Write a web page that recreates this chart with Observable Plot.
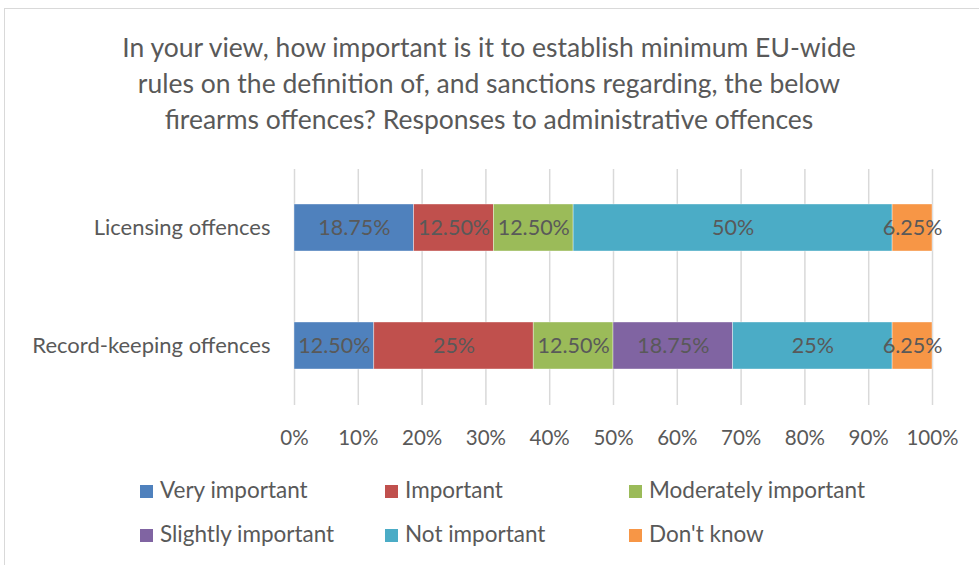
<!DOCTYPE html>
<html>
<head>
<meta charset="utf-8">
<script src="https://cdn.jsdelivr.net/npm/d3@7"></script>
<script src="https://cdn.jsdelivr.net/npm/@observablehq/plot@0.6"></script>
<style>
  html, body { margin: 0; padding: 0; background: #fff; }
  #wrap { position: relative; width: 979px; height: 565px; overflow: hidden; font-family: Lato, "Open Sans", sans-serif; color: #595959; }
  #frame { position: absolute; left: 4px; top: 8px; width: 1000px; height: 600px; border-left: 1.5px solid #d9d9d9; border-top: 1.5px solid #d9d9d9; }
  #title { position: absolute; left: -11px; top: 29px; width: 1000px; text-align: center; font-size: 26.5px; line-height: 36px; color: #595959; }
  #chart { position: absolute; left: 0; top: 0; }
  .leg { position: absolute; font-size: 22.5px; line-height: 24px; color: #595959; white-space: nowrap; }
  .sw { display: inline-block; width: 13px; height: 13px; margin-right: 7px; vertical-align: 0px; }
</style>
</head>
<body>
<div id="wrap">
  <div id="frame"></div>
  <div id="chart"></div>
  <div id="title">In your view, how important is it to establish minimum EU-wide<br>rules on the definition of, and sanctions regarding, the below<br>firearms offences? Responses to administrative offences</div>
  <div id="legend"></div>
</div>
<script>
const categories = ["Licensing offences", "Record-keeping offences"];
const responses = ["Very important", "Important", "Moderately important", "Slightly important", "Not important", "Don't know"];
const colors = ["#4F81BD", "#C0504D", "#9BBB59", "#8064A2", "#4BACC6", "#F79646"];
const licensingValues = [18.75, 12.5, 12.5, 0, 50, 6.25];
const recordKeepingValues = [12.5, 25, 12.5, 18.75, 25, 6.25];
const xTicks = [0, 10, 20, 30, 40, 50, 60, 70, 80, 90, 100];

const seriesByCategory = [licensingValues, recordKeepingValues];
const data = [];
categories.forEach((c, ci) => {
  responses.forEach((r, ri) => {
    const v = seriesByCategory[ci][ri];
    if (v > 0) data.push({category: c, response: r, value: v});
  });
});
const fmt = v => Number.isInteger(v) ? v + "%" : v.toFixed(2) + "%";

const W = 979, H = 565;
const chart = Plot.plot({
  width: W,
  height: H,
  marginLeft: 294,
  marginRight: 47,
  marginTop: 169,
  marginBottom: H - 405,
  style: {fontFamily: "Lato, 'Open Sans', sans-serif", fontSize: "20px", color: "#595959", background: "transparent"},
  x: {domain: [0, 100], ticks: xTicks, tickFormat: d => d + "%", label: null},
  y: {domain: categories, paddingInner: 0.6, paddingOuter: 0.3, label: null},
  color: {domain: responses, range: colors},
  marks: [
    Plot.ruleX(xTicks, {stroke: "#d9d9d9", strokeWidth: 1.5}),
    Plot.barX(data, Plot.stackX({x: "value", y: "category", fill: "response", order: responses, stroke: "#ffffff", strokeOpacity: 0.5, strokeWidth: 0.75})),
    Plot.text(data, Plot.stackX({x: "value", y: "category", z: "response", order: responses, text: d => fmt(d.value), fill: "#595959", fontSize: 21.5})),
    Plot.axisX({ticks: xTicks, tickSize: 0, tickPadding: 25, tickFormat: d => d + "%", fontSize: 20.5, fill: "#595959"}),
    Plot.axisY({tickSize: 0, tickPadding: 24, fontSize: 22, fill: "#595959"})
  ]
});
document.getElementById("chart").appendChild(chart);

const legend = document.getElementById("legend");
const legPos = [[140, 478], [385, 478], [629, 478], [140, 522], [385, 522], [629, 522]];
responses.forEach((r, i) => {
  const d = document.createElement("div");
  d.className = "leg";
  d.style.left = legPos[i][0] + "px";
  d.style.top = legPos[i][1] + "px";
  d.innerHTML = `<span class="sw" style="background:${colors[i]}"></span>${r}`;
  legend.appendChild(d);
});
</script>
</body>
</html>
